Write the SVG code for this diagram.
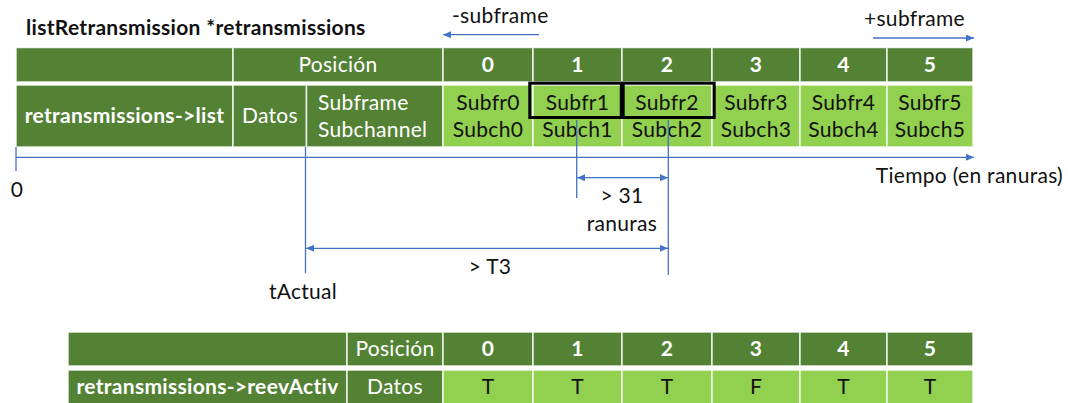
<svg xmlns="http://www.w3.org/2000/svg" width="1068" height="403" viewBox="0 0 1068 403">
<defs>
<style>
text{font-family:Lato,"Liberation Sans",sans-serif;font-size:21px;letter-spacing:0.3px}
.b{font-weight:bold}
.w{fill:#fff}
.k{fill:#111}
.m{text-anchor:middle}
.dk{fill:#548235;stroke:#fff;stroke-width:1.5;stroke-opacity:0.85}
.lt{fill:#92D050;stroke:#fff;stroke-width:1.5;stroke-opacity:0.85}
.hl{fill:none;stroke:#000;stroke-width:3}
.ln{stroke:#4472C4;stroke-width:1.3;fill:none}
</style>
<marker id="ah" markerWidth="9" markerHeight="8" refX="8" refY="3.5" orient="auto-start-reverse" markerUnits="userSpaceOnUse">
<path d="M0,0 L8,3.5 L0,7 z" fill="#4472C4"/>
</marker>
</defs>
<rect width="1068" height="403" fill="#fff"/>

<g id="title">
<text x="26" y="35" class="b k">listRetransmission *retransmissions</text>
</g>

<g id="top-table">
<g id="top-header">
<rect class="dk" x="16" y="47.5" width="217" height="34.5"/>
<rect class="dk" x="233" y="47.5" width="210" height="34.5"/>
<rect class="dk" x="443" y="47.5" width="90" height="34.5"/>
<rect class="dk" x="533" y="47.5" width="89" height="34.5"/>
<rect class="dk" x="622" y="47.5" width="90" height="34.5"/>
<rect class="dk" x="712" y="47.5" width="88" height="34.5"/>
<rect class="dk" x="800" y="47.5" width="87" height="34.5"/>
<rect class="dk" x="887" y="47.5" width="86" height="34.5"/>
<text x="338" y="72" class="w m">Posición</text>
<text x="488" y="72" class="w m b">0</text>
<text x="577.5" y="72" class="w m b">1</text>
<text x="667" y="72" class="w m b">2</text>
<text x="756" y="72" class="w m b">3</text>
<text x="843.5" y="72" class="w m b">4</text>
<text x="930" y="72" class="w m b">5</text>
</g>
<g id="top-data">
<rect class="dk" x="16" y="85" width="217" height="62"/>
<rect class="dk" x="233" y="85" width="73.5" height="62"/>
<rect class="dk" x="306.5" y="85" width="136.5" height="62"/>
<rect class="lt" x="443" y="85" width="90" height="62"/>
<rect class="lt" x="533" y="85" width="89" height="62"/>
<rect class="lt" x="622" y="85" width="90" height="62"/>
<rect class="lt" x="712" y="85" width="88" height="62"/>
<rect class="lt" x="800" y="85" width="87" height="62"/>
<rect class="lt" x="887" y="85" width="86" height="62"/>
<text x="124.5" y="122.5" class="w m b">retransmissions-&gt;list</text>
<text x="270" y="122.5" class="w m">Datos</text>
<text x="318" y="110" class="w">Subframe</text>
<text x="318" y="136.5" class="w">Subchannel</text>
<text x="488" y="110" class="k m">Subfr0</text>
<text x="488" y="136.5" class="k m">Subch0</text>
<text x="577.5" y="110" class="k m">Subfr1</text>
<text x="577.5" y="136.5" class="k m">Subch1</text>
<text x="667" y="110" class="k m">Subfr2</text>
<text x="667" y="136.5" class="k m">Subch2</text>
<text x="756" y="110" class="k m">Subfr3</text>
<text x="756" y="136.5" class="k m">Subch3</text>
<text x="843.5" y="110" class="k m">Subfr4</text>
<text x="843.5" y="136.5" class="k m">Subch4</text>
<text x="930" y="110" class="k m">Subfr5</text>
<text x="930" y="136.5" class="k m">Subch5</text>
</g>
<g id="highlight">
<rect class="hl" x="529.8" y="83.2" width="91.5" height="34.3"/>
<rect class="hl" x="623.2" y="83.2" width="91" height="34.3"/>
</g>
</g>

<g id="bottom-table">
<rect class="dk" x="68" y="332" width="279" height="34"/>
<rect class="dk" x="347" y="332" width="96" height="34"/>
<rect class="dk" x="443" y="332" width="90" height="34"/>
<rect class="dk" x="533" y="332" width="89" height="34"/>
<rect class="dk" x="622" y="332" width="90" height="34"/>
<rect class="dk" x="712" y="332" width="88" height="34"/>
<rect class="dk" x="800" y="332" width="87" height="34"/>
<rect class="dk" x="887" y="332" width="86" height="34"/>
<rect class="dk" x="68" y="370" width="279" height="36"/>
<rect class="dk" x="347" y="370" width="96" height="36"/>
<rect class="lt" x="443" y="370" width="90" height="36"/>
<rect class="lt" x="533" y="370" width="89" height="36"/>
<rect class="lt" x="622" y="370" width="90" height="36"/>
<rect class="lt" x="712" y="370" width="88" height="36"/>
<rect class="lt" x="800" y="370" width="87" height="36"/>
<rect class="lt" x="887" y="370" width="86" height="36"/>
<text x="395" y="356" class="w m">Posición</text>
<text x="488" y="356" class="w m b">0</text>
<text x="577.5" y="356" class="w m b">1</text>
<text x="667" y="356" class="w m b">2</text>
<text x="756" y="356" class="w m b">3</text>
<text x="843.5" y="356" class="w m b">4</text>
<text x="930" y="356" class="w m b">5</text>
<text x="207.5" y="394" class="w m b">retransmissions-&gt;reevActiv</text>
<text x="395" y="394" class="w m">Datos</text>
<text x="488" y="394" class="k m">T</text>
<text x="577.5" y="394" class="k m">T</text>
<text x="667" y="394" class="k m">T</text>
<text x="756" y="394" class="k m">F</text>
<text x="843.5" y="394" class="k m">T</text>
<text x="930" y="394" class="k m">T</text>
</g>

<g id="connectors">
<line class="ln" x1="539" y1="34.7" x2="443" y2="34.7" marker-end="url(#ah)"/>
<line class="ln" x1="873" y1="38" x2="974" y2="38" marker-end="url(#ah)"/>
<line class="ln" x1="16" y1="157.3" x2="974" y2="157.3" marker-end="url(#ah)"/>
<line class="ln" x1="16" y1="147" x2="16" y2="171"/>
<line class="ln" x1="305.5" y1="147" x2="305.5" y2="273"/>
<line class="ln" x1="576.7" y1="120" x2="576.7" y2="198"/>
<line class="ln" x1="668.3" y1="120" x2="668.3" y2="275"/>
<line class="ln" x1="577" y1="177.7" x2="668" y2="177.7" marker-start="url(#ah)" marker-end="url(#ah)"/>
<line class="ln" x1="306" y1="248.3" x2="668" y2="248.3" marker-start="url(#ah)" marker-end="url(#ah)"/>
</g>

<g id="labels">
<text x="452" y="23.3" class="k">-subframe</text>
<text x="864" y="26" class="k">+subframe</text>
<text x="17" y="197" class="k m">0</text>
<text x="1063" y="183.3" class="k" text-anchor="end">Tiempo (en ranuras)</text>
<text x="622" y="203" class="k m">&gt; 31</text>
<text x="622" y="230.5" class="k m">ranuras</text>
<text x="490" y="274" class="k m">&gt; T3</text>
<text x="303" y="299" class="k m">tActual</text>
</g>
</svg>
